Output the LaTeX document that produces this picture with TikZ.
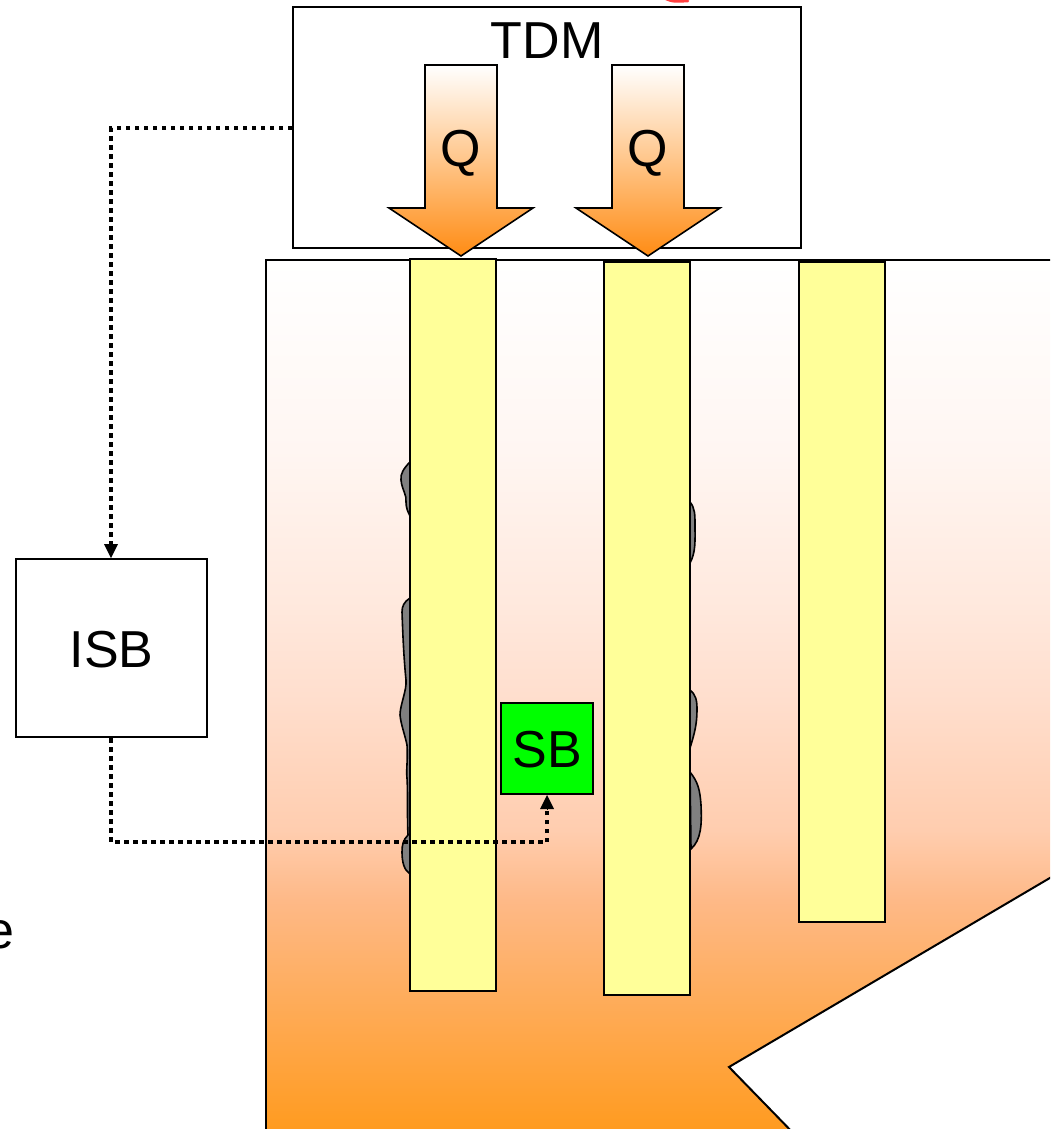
\documentclass[tikz,border=0pt]{standalone}
\usepackage{fontspec}
\setmainfont{Liberation Sans}
\usetikzlibrary{arrows.meta}
\definecolor{tubeyellow}{RGB}{255,255,153}
\definecolor{deposit}{RGB}{128,128,128}
\definecolor{sbgreen}{RGB}{0,255,0}
\definecolor{arrowbot}{RGB}{255,140,20}
\definecolor{arrowmid}{RGB}{255,195,150}
\pgfdeclareverticalshading{furnaceshade}{100bp}{%
  rgb(0bp)=(1,0.596,0.102);
  rgb(25bp)=(1,0.596,0.102);
  rgb(25.6bp)=(1,0.608,0.125);
  rgb(38.6bp)=(0.996,0.725,0.529);
  rgb(42.6bp)=(1,0.804,0.686);
  rgb(50bp)=(1,0.871,0.804);
  rgb(55.7bp)=(1,0.914,0.871);
  rgb(64.2bp)=(1,0.965,0.949);
  rgb(75bp)=(1,1,1);
  rgb(100bp)=(1,1,1)}
\tikzset{
  box/.style={draw=black, line width=2pt, fill=white, inner sep=0pt},
  lbl/.style={font=\fontsize{52}{60}\selectfont, inner sep=0pt},
  tube/.style={draw=black, line width=2pt, fill=tubeyellow, inner sep=0pt, minimum width=86pt},
  depo/.style={draw=black, line width=1.6pt, fill=deposit},
  link/.style={line width=4pt, dash pattern=on 4.5pt off 4.5pt},
  tip/.style={-{Triangle[length=14pt,width=14pt]}},
  qarrow/.style={draw=black, line width=1.6pt, line join=miter, shading=axis, top color=white, middle color=arrowmid, bottom color=arrowbot}
}
\begin{document}
\begin{tikzpicture}[x=1pt,y=-1pt]
\useasboundingbox (0,0) rectangle (1050,1129);
\clip (0,0) rectangle (1050,1129);
% furnace body
\path[shading=furnaceshade]
  (266,260) -- (1060,260) -- (1060,872) -- (729,1067) -- (800,1140) -- (266,1140) -- cycle;
\draw[line width=2pt, line join=miter]
  (266,1140) -- (266,260) -- (1060,260);
\draw[line width=2pt, line join=miter]
  (1060,872) -- (729,1067) -- (800,1140);
% deposits, left of tube 1
\draw[depo] (410,462) .. controls (404,468) and (400,474) .. (401,480)
  .. controls (402,490) and (407,495) .. (406,502) .. controls (406,508) and (408,512) .. (410,516) -- cycle;
\draw[depo] (410,598) .. controls (404,602) and (402,606) .. (402,612)
  .. controls (403,640) and (404,660) .. (406,680) .. controls (407,690) and (400,705) .. (400,715)
  .. controls (401,725) and (405,735) .. (407,745) .. controls (408,760) and (406,770) .. (407,778)
  .. controls (408,795) and (407,815) .. (408,835) .. controls (403,840) and (402,845) .. (402,852)
  .. controls (402,862) and (404,870) .. (410,874) -- cycle;
% deposits, right of tube 2
\draw[depo] (690,502) .. controls (695,508) and (695,515) .. (695,525)
  .. controls (695,540) and (696,552) .. (690,563) -- cycle;
\draw[depo] (690,690) .. controls (696,695) and (697,700) .. (697,710)
  .. controls (697,725) and (694,735) .. (690,748) -- cycle;
\draw[depo] (690,772) .. controls (698,782) and (700,790) .. (701,805)
  .. controls (702,825) and (701,840) .. (691,849) -- cycle;
% tubes
\node[tube, minimum height=732pt] (tube1) at (453,625) {};
\node[tube, minimum height=733pt] (tube2) at (647,628.5) {};
\node[tube, minimum height=660pt] (tube3) at (841.5,592) {};
% TDM box
\node[box, minimum width=508pt, minimum height=241pt] (tdm) at (547,127.5) {};
\node[lbl] (tdmlabel) at (547,41) {TDM};
% Q arrows
\path[qarrow] (425,65) -- (497,65) -- (497,208) -- (533,208) -- (461,256) -- (389,208) -- (425,208) -- cycle;
\path[qarrow] (612,65) -- (684,65) -- (684,208) -- (720,208) -- (648,256) -- (576,208) -- (612,208) -- cycle;
\node[lbl] (q1) at (461,153) {Q};
\node[lbl] (q2) at (648,153) {Q};
% ISB and SB
\node[box, minimum width=191pt, minimum height=178pt] (isb) at (111.5,648) {};
\node[lbl] (isblabel) at (111.5,650) {ISB};
\node[box, fill=sbgreen, minimum width=92pt, minimum height=91pt] (sb) at (547,748.5) {};
\node[lbl] (sblabel) at (547,750) {SB};
% dotted connectors
\coordinate (c1) at (111,128);
\coordinate (c2) at (111,842);
\coordinate (c3) at (547,842);
\draw[link] (tdm.west |- c1) -- (c1) -- ([yshift=13pt]isb.north -| c1);
\draw[tip, line width=0pt, draw=black, fill=black] ([yshift=14pt]isb.north -| c1) -- (isb.north -| c1);
\draw[link] (isb.south -| c1) -- (c2) -- (c3) -- ([yshift=-13pt]sb.south);
\draw[tip, line width=0pt, draw=black, fill=black] ([yshift=-14pt]sb.south) -- (sb.south);
% cut-off fragments at the edges
\node[lbl, anchor=base east] (frag1) at (2,142) {n};
\node[lbl, anchor=base east] (frag2) at (15,948) {e};
\draw[red!75!white, line width=2.5pt, line cap=round] (660,-4) .. controls (672,2) .. (688,1);
\end{tikzpicture}
\end{document}
